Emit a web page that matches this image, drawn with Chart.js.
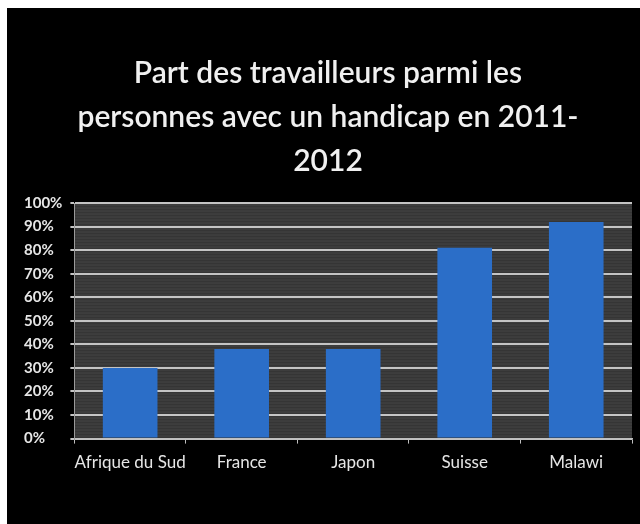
<!DOCTYPE html>
<html><head><meta charset="utf-8">
<script src="https://cdn.jsdelivr.net/npm/chart.js@4"></script>
<style>
html,body{margin:0;padding:0;background:#fff;width:640px;height:524px;overflow:hidden}
#wrap{position:absolute;left:7px;top:8px;width:633px;height:516px;background:#000}
canvas{display:block}
</style></head><body>
<div id="wrap"><canvas id="c" width="633" height="516"></canvas></div>
<script>
const categories = ["Afrique du Sud", "France", "Japon", "Suisse", "Malawi"];
const values = [30, 38, 38, 81, 92];
const titleLines = ["Part des travailleurs parmi les", "personnes avec un handicap en 2011-", "2012"];
const yTicks = [0,10,20,30,40,50,60,70,80,90,100];

const FONT = 'Lato, sans-serif';

const bgPlugin = {
  id: 'plotBg',
  beforeDraw(chart) {
    const {ctx, chartArea: a} = chart;
    ctx.save();
    ctx.fillStyle = '#3d3d3d';
    ctx.fillRect(a.left, a.top, a.right - a.left, a.bottom - a.top);
    ctx.fillStyle = 'rgba(0,0,0,0.12)';
    for (let y = a.top; y < a.bottom; y += 3) ctx.fillRect(a.left, y, a.right - a.left, 1);
    ctx.restore();
  }
};

new Chart(document.getElementById('c'), {
  type: 'bar',
  data: {
    labels: categories,
    datasets: [{
      data: values,
      backgroundColor: '#2b6ec8',
      categoryPercentage: 1,
      barPercentage: 0.49
    }]
  },
  options: {
    responsive: false,
    animation: false,
    devicePixelRatio: 1,
    layout: {padding: {left: 17, right: 8, top: 0, bottom: 42}},
    plugins: {
      legend: {display: false},
      tooltip: {enabled: false},
      title: {
        display: true,
        text: titleLines,
        color: '#f0f0f0',
        font: {family: FONT, size: 30, weight: '600', lineHeight: 1.467},
        padding: {top: 43, bottom: 20}
      }
    },
    scales: {
      x: {
        grid: {display: true, drawOnChartArea: false, drawTicks: true, tickLength: 5, color: '#bfbfbf', offset: true},
        border: {display: true, color: '#bfbfbf', width: 1.5},
        ticks: {color: '#e6e6e6', font: {family: FONT, size: 17}, padding: 9, autoSkip: false, maxRotation: 0, minRotation: 0}
      },
      y: {
        min: 0, max: 100,
        afterBuildTicks(axis) { axis.ticks = yTicks.map(v => ({value: v})); },
        grid: {color: '#c4c4c4', lineWidth: 2, tickLength: 4},
        border: {display: true, color: '#9a9a9a', width: 1},
        ticks: {color: '#e6e6e6', font: {family: FONT, size: 15, weight: 'bold'}, crossAlign: 'far', padding: 4, autoSkip: false,
          callback: v => v + '%'}
      }
    }
  },
  plugins: [bgPlugin]
});
</script>
</body></html>
